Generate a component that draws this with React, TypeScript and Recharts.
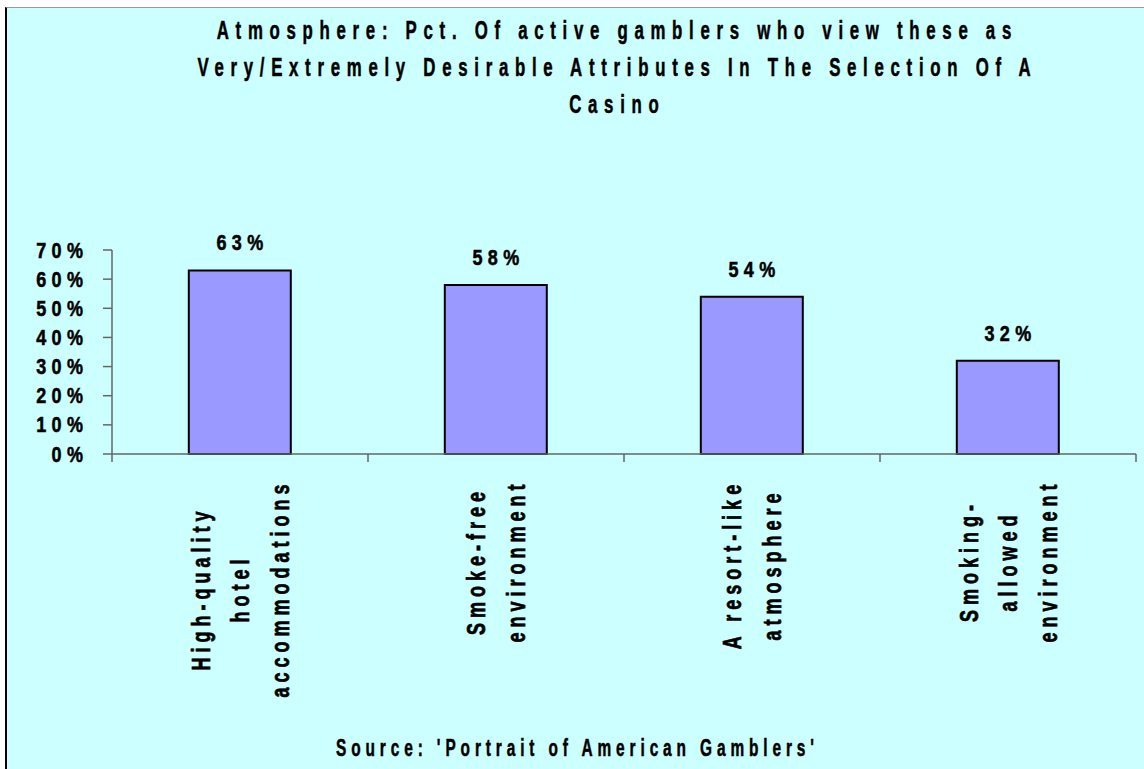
import React from 'react';
import { BarChart, Bar, XAxis, YAxis, LabelList } from 'recharts';

const categories = [
  'High-quality\nhotel\naccommodations',
  'Smoke-free\nenvironment',
  'A resort-like\natmosphere',
  'Smoking-\nallowed\nenvironment',
];
const values = [0.63, 0.58, 0.54, 0.32];
const yTicks = [0, 0.1, 0.2, 0.3, 0.4, 0.5, 0.6, 0.7];
const titleLines = [
  'Atmosphere: Pct. Of active gamblers who view these as',
  'Very/Extremely Desirable Attributes In The Selection Of A',
  'Casino',
];
const sourceText = "Source: 'Portrait of American Gamblers'";

const data = categories.map((name, i) => ({ name, value: values[i] }));

const FONT = '"Liberation Sans", Arial, Helvetica, sans-serif';
const AXIS = '#666666';
const pct = (v: number) => `${Math.round(v * 100)}%`;

let ctx: CanvasRenderingContext2D | null = null;
function measure(t: string, size: number, ls: number) {
  if (!ctx) ctx = document.createElement('canvas').getContext('2d');
  if (!ctx) return t.length * size * 0.55 + ls * t.length;
  ctx.font = `bold ${size}px "Liberation Sans"`;
  return ctx.measureText(t).width + ls * t.length;
}

function SText({ x, y, text, size, ls, anchor = 'middle', sx = 1, sy = 1, rotate = 0, sw = 0.5 }: any) {
  const shift = anchor === 'middle' ? ls / 2 : anchor === 'end' ? ls : 0;
  return (
    <text
      transform={`translate(${x},${y}) rotate(${rotate}) scale(${sx},${sy})`}
      x={shift}
      y={0}
      textAnchor={anchor}
      fontSize={size}
      fontWeight="bold"
      fontFamily={FONT}
      letterSpacing={ls}
      fill="#000"
      stroke="#000"
      strokeWidth={sw}
    >
      {text}
    </text>
  );
}

const YTick = (p: any) => (
  <SText x={p.x} y={p.y + 7.5} text={pct(p.payload.value)} size={20} ls={6} anchor="end" sx={0.9} sy={1.08} />
);

const XTick = (p: any) => {
  const { x, y, payload, index } = p;
  const off = payload && payload.offset ? payload.offset : 128;
  const lines = String(payload.value).split('\n');
  const size = 18;
  const ls = 5;
  const gap = 39.5;
  const maxLen = Math.max(...lines.map((l) => measure(l, size, ls)));
  const top = y + 28;
  const n = lines.length;
  return (
    <g>
      <line x1={x - off} x2={x - off} y1={y} y2={y + 8} stroke={AXIS} strokeWidth={1.5} />
      {index === categories.length - 1 && (
        <line x1={x + off} x2={x + off} y1={y} y2={y + 8} stroke={AXIS} strokeWidth={1.5} />
      )}
      {lines.map((l, i) => (
        <SText
          key={i}
          x={x + (i - (n - 1) / 2) * gap + 9}
          y={top + maxLen / 2}
          text={l}
          size={size}
          ls={ls}
          rotate={-90}
          sy={1.45}
        />
      ))}
    </g>
  );
};

const ValueLabel = (p: any) => {
  const { x, y, width, value } = p;
  return <SText x={x + width / 2} y={y - 20} text={pct(value)} size={20} ls={6} sx={0.9} sy={1.08} />;
};

export default function App() {
  return (
    <div style={{ position: 'relative', width: 1144, height: 769, overflow: 'hidden' }}>
      <style>{'body{margin:0;overflow:hidden}'}</style>
      <div
        style={{
          position: 'absolute',
          left: 5,
          top: 7,
          width: 1160,
          height: 800,
          background: '#CCFFFF',
          borderLeft: '2px solid #000',
          borderTop: '1px solid #999',
        }}
      />
      <div style={{ position: 'absolute', left: 0, top: 0 }}>
        <BarChart
          width={1144}
          height={769}
          data={data}
          margin={{ top: 250, right: 8, bottom: 0, left: 0 }}
          barCategoryGap="30%"
        >
          <YAxis
            type="number"
            domain={[0, 0.7]}
            ticks={yTicks}
            interval={0}
            width={112}
            tickSize={9}
            tickMargin={20}
            axisLine={{ stroke: AXIS, strokeWidth: 1.5 }}
            tickLine={{ stroke: AXIS, strokeWidth: 1.5 }}
            tick={<YTick />}
          />
          <XAxis
            dataKey="name"
            type="category"
            height={315}
            interval={0}
            tickSize={0}
            tickMargin={0}
            tickLine={false}
            axisLine={{ stroke: AXIS, strokeWidth: 1.5 }}
            tick={<XTick />}
          />
          <Bar dataKey="value" fill="#9999FF" stroke="#000" strokeWidth={2} isAnimationActive={false}>
            <LabelList dataKey="value" content={<ValueLabel />} />
          </Bar>
        </BarChart>
      </div>
      <svg
        width={1144}
        height={769}
        style={{ position: 'absolute', left: 0, top: 0, pointerEvents: 'none' }}
      >
        {titleLines.map((t, i) => (
          <SText key={i} x={614} y={39 + i * 37} text={t} size={24} ls={9.6} sx={0.7} sy={1.08} />
        ))}
        <SText x={575} y={756} text={sourceText} size={22} ls={7.0} sx={0.7} sy={1.08} />
      </svg>
    </div>
  );
}
